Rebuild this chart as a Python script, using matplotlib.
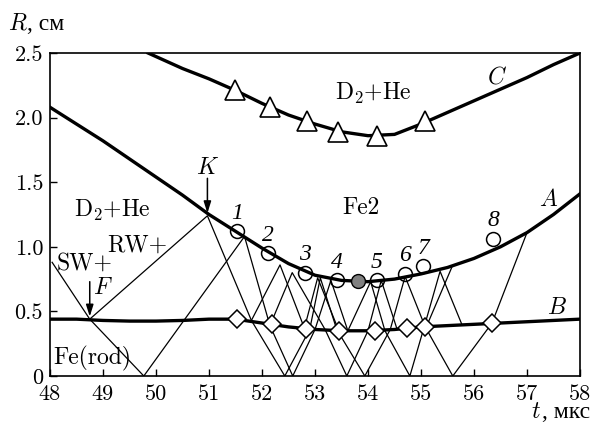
import numpy as np
import matplotlib
matplotlib.use('Agg')
import matplotlib.pyplot as plt

plt.rcParams['font.family'] = ['cmr10', 'DejaVu Serif']
plt.rcParams['mathtext.fontset'] = 'cm'
plt.rcParams['axes.formatter.use_mathtext'] = True

# boundary A (liner)
a_t = [48.0, 48.5, 49.0, 49.5, 50.0, 50.5, 51.0, 51.5, 52.0, 52.5, 53.0,
       53.5, 54.0, 54.5, 55.0, 55.5, 56.0, 56.5, 57.0, 57.5, 58.0]
a_R = [2.08, 1.95, 1.82, 1.68, 1.54, 1.40, 1.25, 1.12, 0.99, 0.87, 0.78,
       0.74, 0.73, 0.75, 0.79, 0.84, 0.91, 1.00, 1.11, 1.25, 1.41]
# boundary B (rod)
b_t = [48.0, 48.5, 49.0, 49.5, 50.0, 50.5, 51.0, 51.5, 52.0, 52.5, 53.0,
       53.5, 54.0, 54.5, 55.0, 55.5, 56.0, 56.5, 57.0, 57.5, 58.0]
b_R = [0.44, 0.44, 0.43, 0.425, 0.425, 0.43, 0.44, 0.44, 0.41, 0.38, 0.36,
       0.35, 0.35, 0.36, 0.38, 0.39, 0.40, 0.41, 0.42, 0.43, 0.44]
# boundary C
c_t = [49.85, 50.5, 51.0, 51.5, 52.0, 52.5, 53.0, 53.5, 54.0, 54.5, 55.0,
       55.5, 56.0, 56.5, 57.0, 57.5, 58.0]
c_R = [2.50, 2.38, 2.30, 2.21, 2.11, 2.02, 1.95, 1.89, 1.86, 1.87, 1.95,
       2.04, 2.13, 2.22, 2.31, 2.41, 2.50]

# measured points
circ_t = [51.53, 52.11, 52.81, 53.42, 54.17, 54.70, 55.04, 56.36]
circ_R = [1.12, 0.95, 0.80, 0.74, 0.74, 0.79, 0.85, 1.06]
circ_lbl = ['1', '2', '3', '4', '5', '6', '7', '8']
gray_t, gray_R = [53.81], [0.735]
dia_t = [51.53, 52.19, 52.83, 53.45, 54.13, 54.74, 55.08, 56.34]
dia_R = [0.44, 0.40, 0.36, 0.35, 0.35, 0.37, 0.38, 0.41]
tri_t = [51.49, 52.15, 52.85, 53.43, 54.17, 55.08]
tri_R = [2.21, 2.08, 1.97, 1.89, 1.86, 1.97]

# wave trajectories (t, R)
rays = [
    [(48.04, 0.88), (48.75, 0.44), (49.77, 0.00), (51.67, 1.08), (52.15, 0.39),
     (52.58, 0.00), (53.00, 0.36), (53.30, 0.74), (53.62, 0.35), (54.05, 0.73),
     (54.32, 0.35), (54.79, 0.00), (55.06, 0.38), (55.36, 0.81), (55.77, 0.40)],
    [(48.75, 0.44), (50.97, 1.24), (51.80, 0.43), (52.43, 0.00), (52.90, 0.36),
     (53.10, 0.76), (53.41, 0.36), (53.94, 0.00), (54.42, 0.36), (54.70, 0.77),
     (55.08, 0.38), (55.60, 0.00), (56.34, 0.41), (57.00, 1.11)],
    [(51.80, 0.43), (52.34, 0.86), (52.80, 0.37), (53.05, 0.76), (53.45, 0.35)],
    [(52.15, 0.39), (52.57, 0.80), (53.19, 0.36), (53.60, 0.00), (54.00, 0.35),
     (54.25, 0.74), (54.55, 0.36), (55.10, 0.38), (55.58, 0.84)],
]

fig = plt.figure(figsize=(5.91, 4.34), dpi=100)
ax = fig.add_axes([50 / 591, 58 / 434, 530 / 591, 323 / 434])

for r in rays:
    ax.plot([p[0] for p in r], [p[1] for p in r], color='k', lw=0.9, zorder=2)

ax.plot(a_t, a_R, color='k', lw=2.4, zorder=3)
ax.plot(b_t, b_R, color='k', lw=2.4, zorder=3)
ax.plot(c_t, c_R, color='k', lw=2.4, zorder=3)

ax.plot(circ_t, circ_R, 'o', ms=10, mfc='none', mec='k', mew=1.1, zorder=4)
ax.plot(gray_t, gray_R, 'o', ms=10, mfc='#808080', mec='k', mew=1.0, zorder=4)
ax.plot(dia_t, dia_R, 'D', ms=9, mfc='white', mec='k', mew=1.1, zorder=4)
ax.plot(tri_t, tri_R, '^', ms=15, mfc='white', mec='k', mew=1.2, zorder=4)

for t, R, s in zip(circ_t, circ_R, circ_lbl):
    ax.text(t, R + 0.14, s, fontsize=17, family='Liberation Serif', style='italic',
            ha='center', va='center')

fs = 17
ax.text(54.1, 2.19, r'D$_2$+He', fontsize=fs, ha='center', va='center')
ax.text(49.17, 1.28, r'D$_2$+He', fontsize=fs, ha='center', va='center')
ax.text(49.64, 1.01, 'RW+', fontsize=fs, ha='center', va='center')
ax.text(48.66, 0.87, 'SW+', fontsize=fs, ha='center', va='center')
ax.text(53.87, 1.30, 'Fe2', fontsize=fs, ha='center', va='center')
ax.text(48.06, 0.04, 'Fe(rod)', fontsize=fs, ha='left', va='bottom')
ax.text(56.43, 2.31, r'$C$', fontsize=fs, ha='center', va='center')
ax.text(57.40, 1.36, r'$A$', fontsize=fs, ha='center', va='center')
ax.text(57.57, 0.53, r'$B$', fontsize=fs, ha='center', va='center')
ax.text(50.98, 1.61, r'$K$', fontsize=fs, ha='center', va='center')
ax.text(49.00, 0.68, r'$F$', fontsize=fs, ha='center', va='center')

arr = dict(arrowstyle='-|>,head_length=0.7,head_width=0.22', color='k', lw=1.1,
           shrinkA=0, shrinkB=0)
ax.annotate('', xy=(50.97, 1.26), xytext=(50.97, 1.53), arrowprops=arr)
ax.annotate('', xy=(48.75, 0.46), xytext=(48.75, 0.73), arrowprops=arr)

ax.set_xlim(48, 58)
ax.set_ylim(0, 2.5)
ax.set_xticks(range(48, 59))
ax.set_xticklabels([str(v) for v in range(48, 59)])
ax.set_yticks([0, 0.5, 1.0, 1.5, 2.0, 2.5])
ax.set_yticklabels(['0', '0.5', '1.0', '1.5', '2.0', '2.5'])
ax.tick_params(direction='in', length=5, width=1.0, labelsize=16)
ax.tick_params(axis='x', pad=6)
ax.tick_params(axis='y', pad=5)
for s in ax.spines.values():
    s.set_linewidth(1.2)

cyr = 'Liberation Serif'
fig.text(8 / 591, 1 - 30 / 434, r'$R$', fontsize=fs, ha='left', va='baseline')
fig.text(27 / 591, 1 - 30 / 434, ', см', fontsize=fs, family=cyr,
         ha='left', va='baseline')
fig.text(531 / 591, 1 - 418 / 434, r'$t$', fontsize=fs, ha='left', va='baseline')
fig.text(590 / 591, 1 - 418 / 434, ', мкс', fontsize=fs, family=cyr,
         ha='right', va='baseline')

fig.savefig('out.png', dpi=100)
